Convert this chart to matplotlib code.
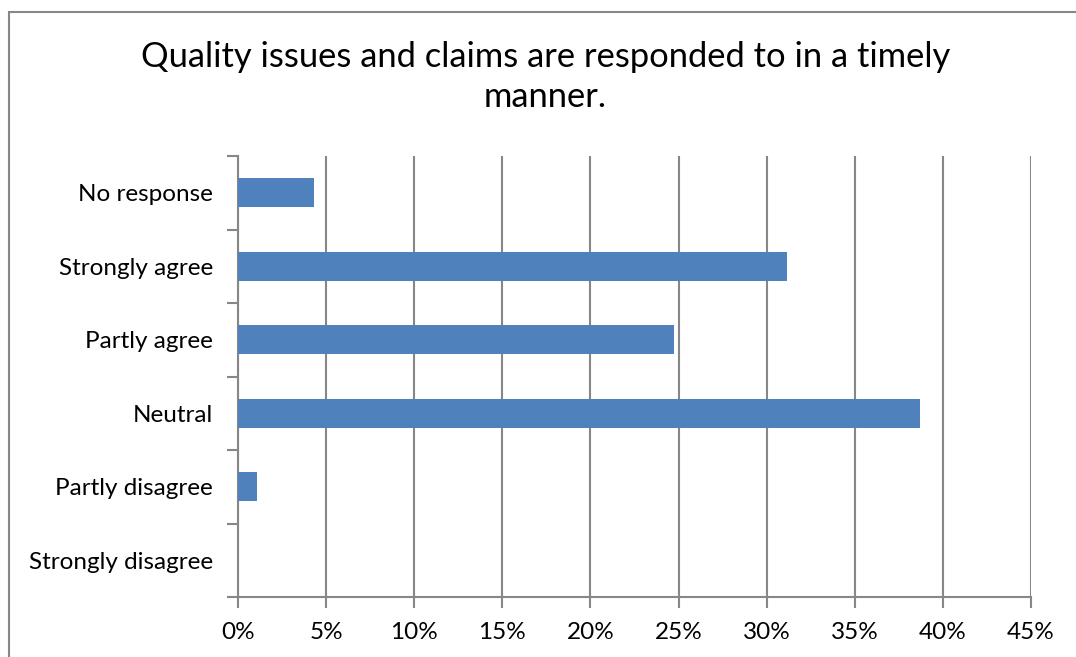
import numpy as np
import matplotlib
matplotlib.use("Agg")
import matplotlib.pyplot as plt
from matplotlib.patches import Rectangle
from matplotlib.ticker import MultipleLocator, PercentFormatter

plt.rcParams["font.family"] = ["Lato", "DejaVu Sans"]

categories = ["Strongly disagree", "Partly disagree", "Neutral",
              "Partly agree", "Strongly agree", "No response"]
shares = [0.0, 1.075, 38.71, 24.73, 31.18, 4.30]
title = "Quality issues and claims are responded to in a timely\nmanner."

grid_c = "#878787"
bar_c = "#4F81BD"

fig = plt.figure(figsize=(10.76, 6.57), dpi=100, facecolor="w")
ax = fig.add_axes([238 / 1076, 1 - 597 / 657, (1031 - 238) / 1076, (597 - 156) / 657])

y = np.arange(len(categories))
ax.barh(y, shares, height=0.4, color=bar_c, lw=0, zorder=3)

ax.set_xlim(0, 45)
ax.set_ylim(-0.5, len(categories) - 0.5)
ax.xaxis.set_major_locator(MultipleLocator(5))
ax.xaxis.set_major_formatter(PercentFormatter(decimals=0))
ax.set_yticks(y)
ax.set_yticklabels(categories)
ax.set_yticks(np.arange(len(categories) + 1) - 0.5, minor=True)
ax.tick_params(axis="y", which="major", length=0, pad=18, labelsize=17.5)
ax.tick_params(axis="y", which="minor", length=8, width=1.5, color=grid_c)
ax.tick_params(axis="x", length=8, width=1.5, color=grid_c, pad=10, labelsize=17.5)
ax.grid(axis="x", color=grid_c, lw=1.5, zorder=0)

for side in ["top", "right"]:
    ax.spines[side].set_visible(False)
for side in ["left", "bottom"]:
    ax.spines[side].set_color(grid_c)
    ax.spines[side].set_linewidth(1.5)

fig.text(0.507, 1 - 77 / 657, title, ha="center", va="center", fontsize=24.8,
         linespacing=1.28)

fig.patches.append(Rectangle((9 / 1076, -0.1), 1.2, 1 - 12 / 657 + 0.1,
                             transform=fig.transFigure, fill=False,
                             edgecolor=grid_c, lw=1.5))

fig.savefig("out.png", dpi=100)
